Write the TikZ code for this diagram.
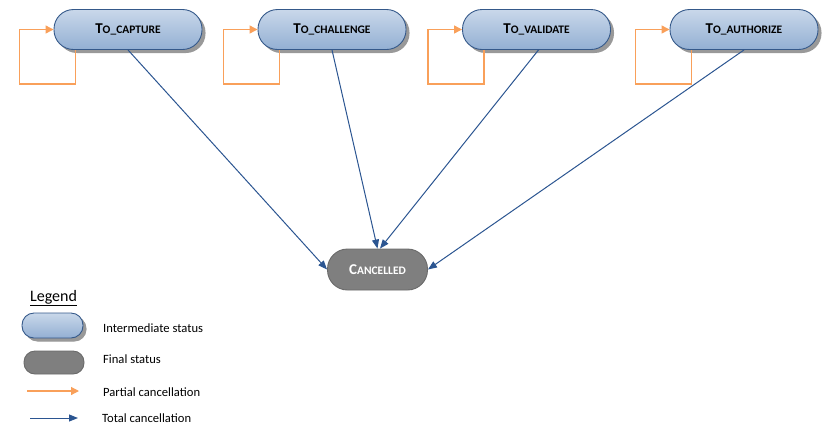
\documentclass[tikz,border=0pt]{standalone}
\usepackage{fontspec}
\setmainfont{Carlito}
\usetikzlibrary{arrows.meta,shadows}
\definecolor{nodetop}{HTML}{C9D8EA}
\definecolor{nodebot}{HTML}{93AFD3}
\definecolor{nodeborder}{HTML}{35598A}
\definecolor{finalfill}{HTML}{7F7F7F}
\definecolor{finalborder}{HTML}{6A6A6A}
\definecolor{partcol}{HTML}{F9A05A}
\definecolor{totcol}{HTML}{2B5591}
\newcommand{\smc}[2]{{\fontsize{15}{15}\selectfont #1}{\fontsize{11.5}{11.5}\selectfont #2}}
\tikzset{
  inter/.style={rectangle, rounded corners=19.5pt, minimum width=148pt, minimum height=40pt,
    draw=nodeborder, line width=0.9pt, top color=nodetop, bottom color=nodebot,
    drop shadow={shadow xshift=3.5pt, shadow yshift=-3.5pt, fill=black!40, opacity=1},
    font=\bfseries, inner sep=0pt},
  final/.style={rectangle, rounded corners=20pt, minimum width=100pt, minimum height=41pt,
    draw=finalborder, line width=0.9pt, fill=finalfill, text=white, font=\bfseries, inner sep=0pt},
  partial/.style={draw=partcol, line width=1.2pt, -{Triangle[length=8pt,width=8pt]}},
  total/.style={draw=totcol, line width=1pt, -{Triangle[length=9pt,width=7pt]}},
  legtext/.style={anchor=west, font=\fontsize{12.6}{14}\selectfont, inner sep=0pt},
}
\begin{document}
\begin{tikzpicture}[x=1pt,y=-1pt]
\useasboundingbox (0,0) rectangle (826,440);
\node[inter] (n1) at (128,29.5) {\smc{T}{O\_CAPTURE}};
\node[inter] (n2) at (332,29.5) {\smc{T}{O\_CHALLENGE}};
\node[inter] (n3) at (536.5,29.5) {\smc{T}{O\_VALIDATE}};
\node[inter] (n4) at (744,29.5) {\smc{T}{O\_AUTHORIZE}};
\node[final] (c) at (377.5,269.5) {\smc{C}{ANCELLED}};
\foreach \n in {n1,n2,n3,n4}{
  \draw[partial] ([xshift=22pt]\n.south west) -- ++(0,34) -| ([xshift=-34pt]\n.west) -- (\n.west);
}
\draw[total] (n1.south) -- (c.west);
\draw[total] (n2.south) -- (c.north);
\draw[total] ([xshift=2pt]n3.south) -- ([xshift=2.5pt]c.north);
\draw[total] (n4.south) -- (c.east);
% legend
\node[anchor=center, font=\fontsize{16}{16}\selectfont, inner sep=0pt] (lt) at (53.5,298) {\underline{Legend}};
\node[inter, minimum width=61pt, minimum height=25pt, rounded corners=12pt,
  drop shadow={shadow xshift=3pt, shadow yshift=-3pt, fill=black!40, opacity=1}] (li) at (52.5,325.5) {};
\node[final, minimum width=60pt, minimum height=23pt, rounded corners=11pt] (lf) at (54,362.5) {};
\node[legtext] (ti) at (103,328) {Intermediate status};
\node[legtext] (tf) at (103,359.5) {Final status};
\node[legtext] (tp) at (103,392) {Partial cancellation};
\node[legtext] (tt) at (102,418) {Total cancellation};
\coordinate (pa) at (27,391);
\coordinate (pb) at (79,391);
\coordinate (ta) at (30,418);
\coordinate (tb) at (78,418);
\draw[partial] (pa) -- (pb);
\draw[total] (ta) -- (tb);
\end{tikzpicture}
\end{document}
